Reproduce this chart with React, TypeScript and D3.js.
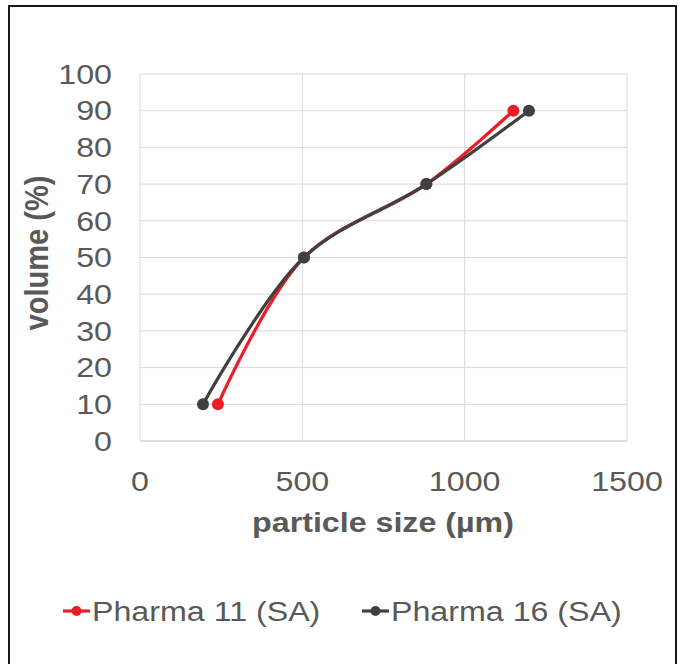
import { useEffect } from "react"
import * as d3 from "d3"

const SERIES_NAMES = ["Pharma 11 (SA)", "Pharma 16 (SA)"]
const SERIES_COLORS = ["#ee1c25", "#404040"]
const SIZE_11 = [240, 505, 882, 1150]
const SIZE_16 = [194, 505, 882, 1198]
const VOLUME = [10, 50, 70, 90]
const X_TICKS = [0, 500, 1000, 1500]
const Y_TICKS = [0, 10, 20, 30, 40, 50, 60, 70, 80, 90, 100]

const W = 684
const H = 664
const FONT = "'Liberation Sans', Arial, sans-serif"
const TEXT = "#595959"
const FS = 28
// the source image is a bit stretched sideways
const SX = 1.15

const x = d3.scaleLinear().domain([0, 1500]).range([140, 627])
const y = d3.scaleLinear().domain([0, 100]).range([441, 74])

const line = d3
  .line<[number, number]>()
  .x((d) => x(d[0]))
  .y((d) => y(d[1]))
  .curve(d3.curveCatmullRom.alpha(0.5))

export default function App() {
  useEffect(() => {
    document.body.style.margin = "0"
  }, [])

  const series = [SIZE_11, SIZE_16].map((xs) =>
    xs.map((v, i) => [v, VOLUME[i]] as [number, number])
  )

  const legendX = [63, 362]

  return (
    <svg width={W} height={H} style={{ display: "block", background: "#fff" }} fontFamily={FONT}>
      <rect x={9} y={6} width={667} height={670} fill="#fff" stroke="#1a1a1a" strokeWidth={2} />

      {/* grid */}
      {Y_TICKS.map((t) => (
        <line key={"gy" + t} x1={x(0)} x2={x(1500)} y1={y(t)} y2={y(t)}
          stroke={t === 0 ? "#bfbfbf" : "#d9d9d9"} strokeWidth={1} />
      ))}
      {X_TICKS.map((t) => (
        <line key={"gx" + t} x1={x(t)} x2={x(t)} y1={y(0)} y2={y(100)} stroke="#d9d9d9" strokeWidth={1} />
      ))}

      {/* tick labels */}
      {Y_TICKS.map((t) => (
        <text key={"ly" + t} transform={`translate(112,${y(t)}) scale(${SX},1)`} textAnchor="end"
          dominantBaseline="central" fontSize={FS} fill={TEXT}>{t}</text>
      ))}
      {X_TICKS.map((t) => (
        <text key={"lx" + t} transform={`translate(${x(t)},481) scale(${SX},1)`} textAnchor="middle"
          dominantBaseline="central" fontSize={FS} fill={TEXT}>{t}</text>
      ))}

      {/* axis titles */}
      <text transform={`translate(383,522) scale(${SX},1)`} textAnchor="middle" dominantBaseline="central"
        fontSize={FS} fontWeight="bold" fill={TEXT}>particle size (µm)</text>
      <text transform={`translate(37,253) scale(${SX},1) rotate(-90)`} textAnchor="middle"
        dominantBaseline="central" fontSize={FS + 1} fontWeight="bold" fill={TEXT}>volume (%)</text>

      {/* series */}
      {series.map((pts, si) => (
        <g key={"s" + si}>
          <path d={line(pts) ?? ""} fill="none" stroke={SERIES_COLORS[si]} strokeWidth={3.2} />
          {pts.map((p, i) => (
            <circle key={i} cx={x(p[0])} cy={y(p[1])} r={6} fill={SERIES_COLORS[si]} />
          ))}
        </g>
      ))}

      {/* legend */}
      {SERIES_NAMES.map((name, i) => (
        <g key={name}>
          <line x1={legendX[i]} x2={legendX[i] + 27} y1={611} y2={611} stroke={SERIES_COLORS[i]} strokeWidth={3.2} />
          <circle cx={legendX[i] + 13.5} cy={611} r={5} fill={SERIES_COLORS[i]} />
          <text transform={`translate(${legendX[i] + 29},611) scale(${SX},1)`} dominantBaseline="central"
            fontSize={FS} fill={TEXT}>{name}</text>
        </g>
      ))}
    </svg>
  )
}
